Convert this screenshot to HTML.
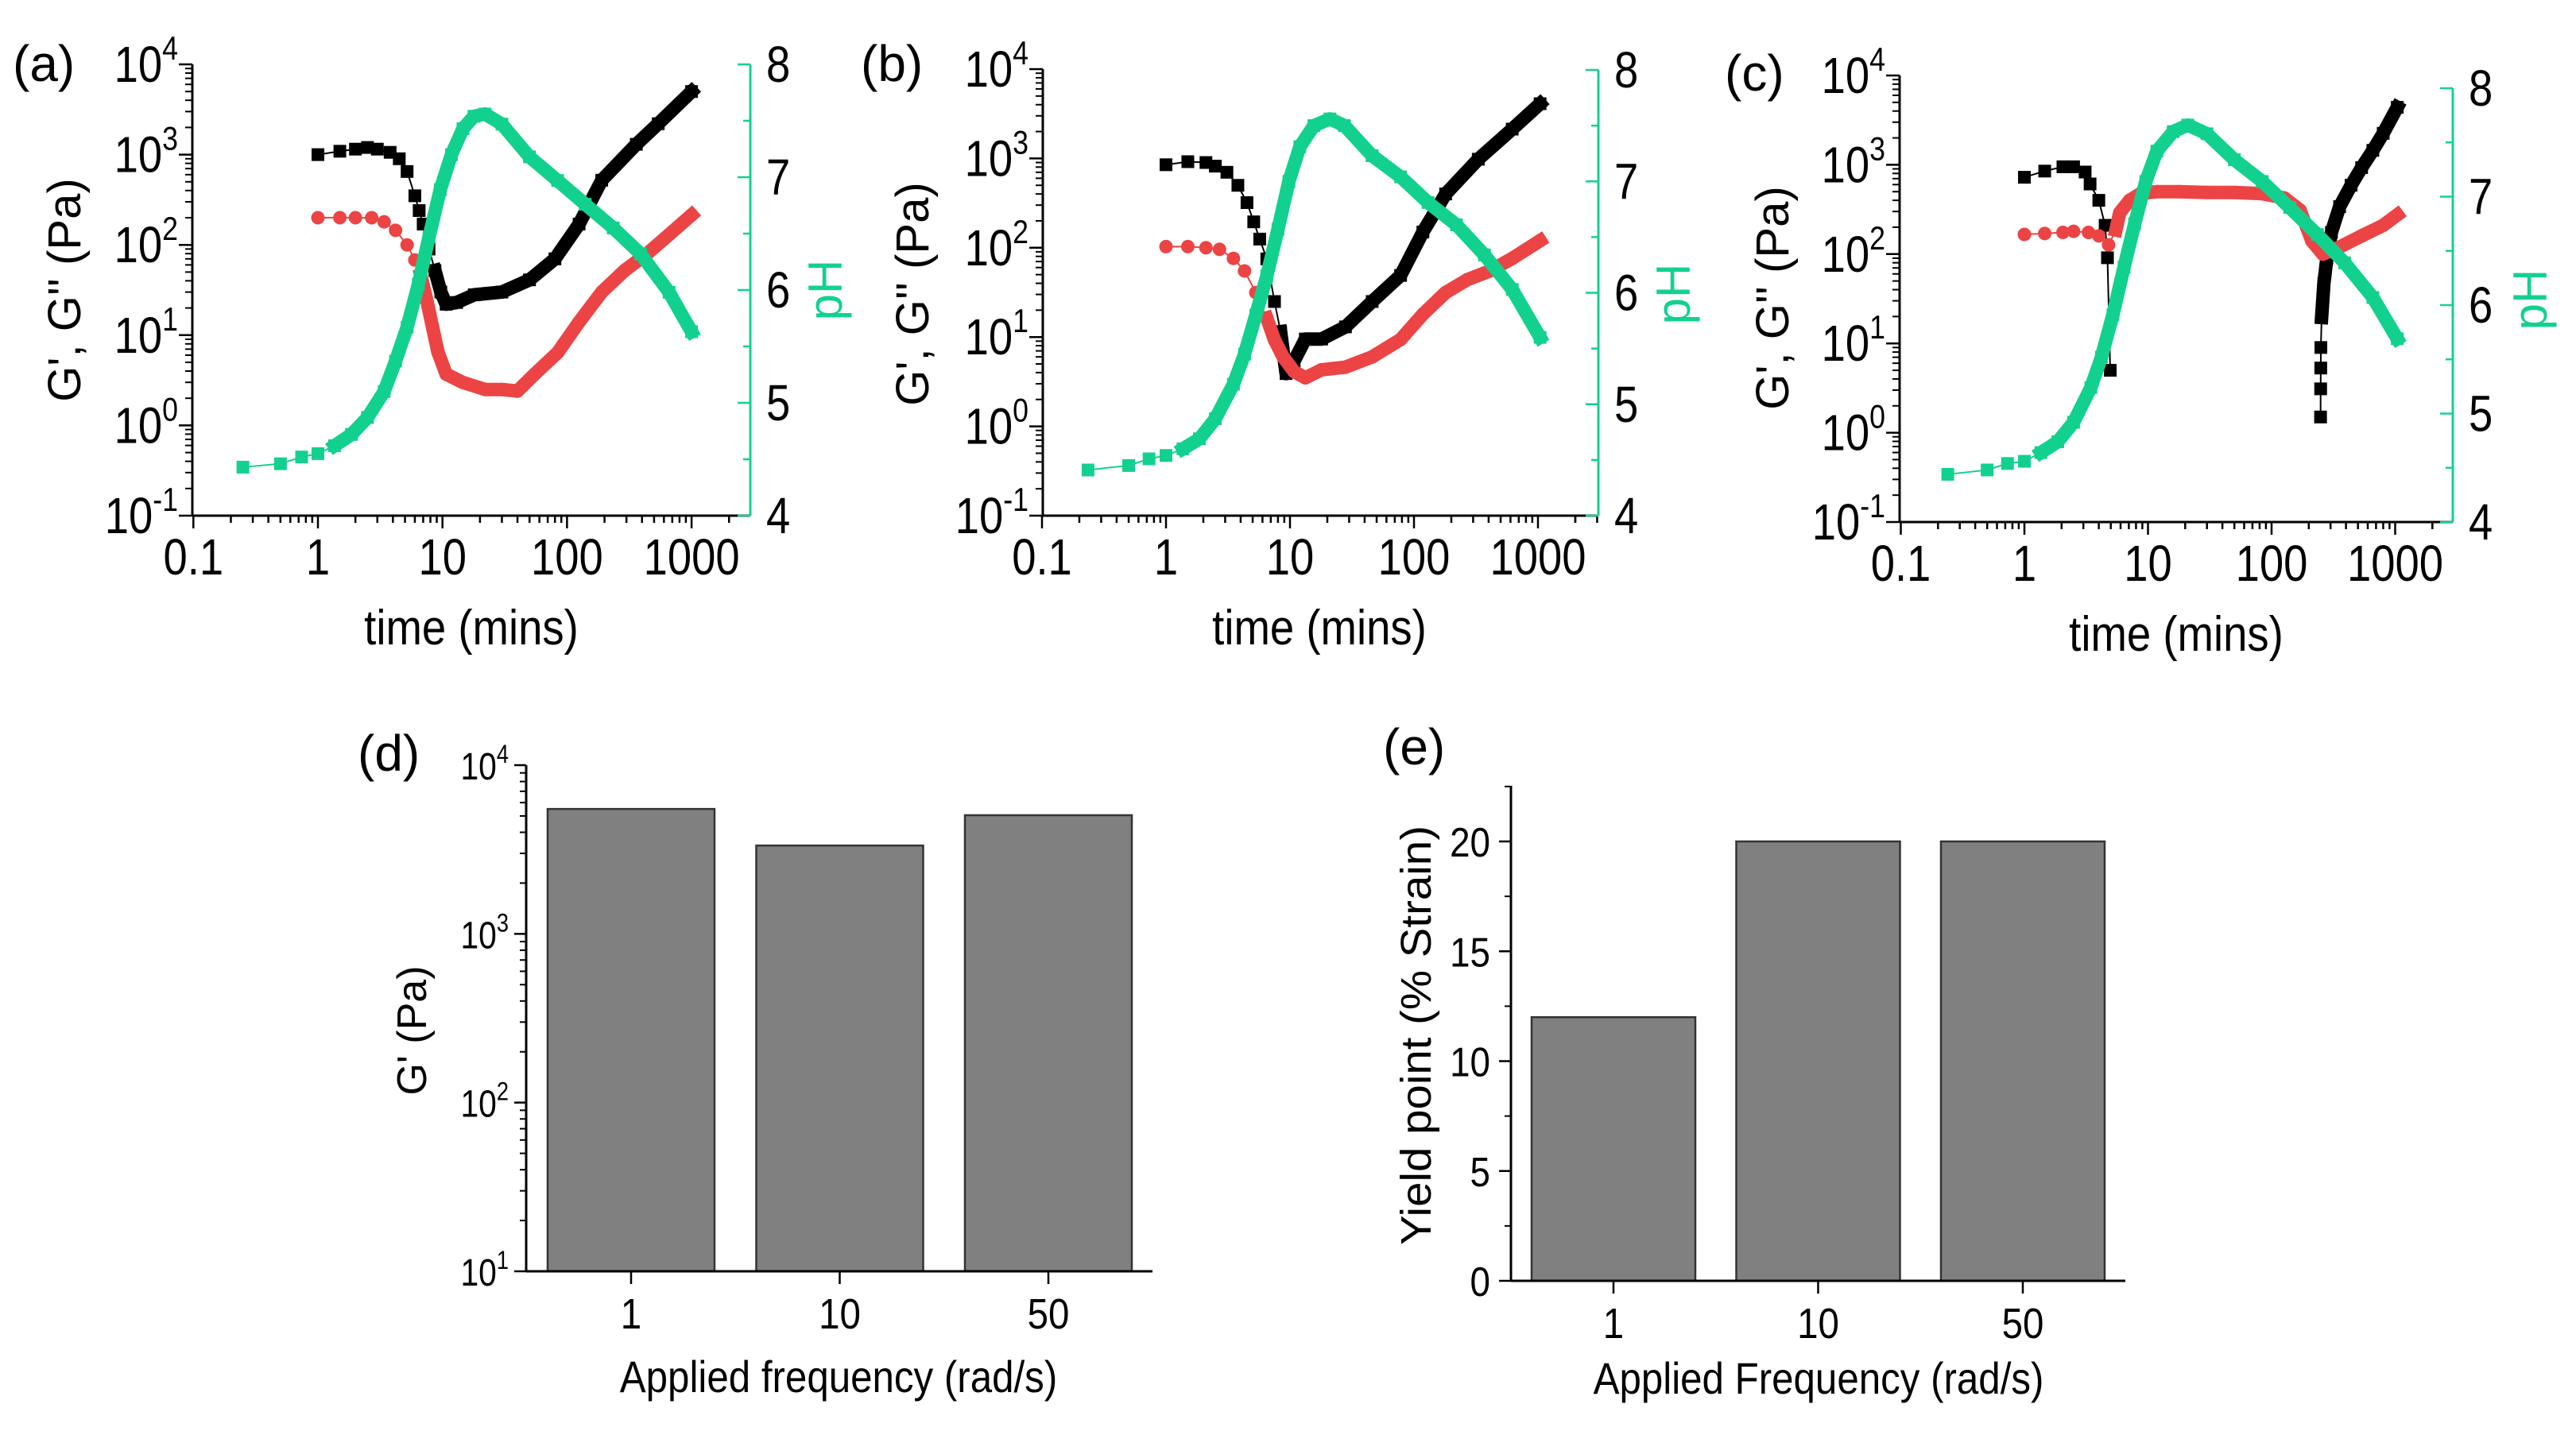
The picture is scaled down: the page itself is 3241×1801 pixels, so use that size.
<!DOCTYPE html>
<html><head><meta charset="utf-8"><style>
html,body{margin:0;padding:0;background:#fff;}
svg{display:block;font-family:"Liberation Sans",Arial,sans-serif;}
</style></head><body>
<svg id="fig" width="3241" height="1801" viewBox="0 0 3241 1801" xmlns="http://www.w3.org/2000/svg"></svg>
<script>
// ---------- Data: panel (a) ----------
const aGpT = [1,1.5,2,2.5,3,3.8,4.5,5.2,6,6.5,7,7.8,8.7,9.7,10.7,13,18,30,50,80,125,190,360,540,1000];
const aGpV = [1000,1090,1150,1200,1150,1060,900,650,350,240,170,90,52,30,22,23,28,30,41,70,170,520,1300,2200,5000];
const aGppT = [1,1.5,2,2.7,3.4,4.2,5.2,6,6.7,7.5,8.3,9.2,10.7,14.5,22,30,40,55,84,125,190,290,440,660,1000];
const aGppV = [200,200,200,200,180,145,100,68,46,24,12.5,6.5,3.7,3,2.5,2.5,2.4,3.7,6.4,14,30,52,80,130,215];
const aPhT = [0.25,0.5,0.74,1,1.36,1.86,2.5,3.4,4.2,5.2,6.4,7.8,9.6,11.8,14.6,17.9,22,30,50,84,140,235,390,660,1000];
const aPhV = [4.43,4.46,4.52,4.55,4.62,4.72,4.87,5.1,5.37,5.67,6.05,6.47,6.89,7.2,7.43,7.54,7.56,7.47,7.18,6.97,6.76,6.55,6.32,5.98,5.63];
// ---------- Data: panel (b) ----------
const bGpT = [1,1.5,2.1,2.5,3.1,3.8,4.5,5.1,5.7,6.5,7.5,8.4,9.3,10.8,13.3,18,28,46,78,118,180,330,620,1040];
const bGpV = [850,920,900,820,700,500,320,195,125,75,25,11.5,3.9,5.4,9.5,9.5,13,25,49,150,400,980,2130,4100];
const bGppT = [1,1.5,2.1,2.7,3.5,4.3,5.3,6.5,7.5,8.8,10.8,13.3,18,28,46,78,118,180,270,410,620,1040];
const bGppV = [103,103,100,96,76,55,31.5,16.3,9.3,6,4.1,3.5,4.3,4.6,6,9.4,18,31.5,44,55,76,120];
const bPhT = [0.235,0.5,0.73,1,1.37,1.86,2.5,3.5,4.3,5.3,6.5,8,9.8,12,15.6,21,27.5,46,78,130,220,370,620,1040];
const bPhV = [4.41,4.45,4.51,4.54,4.6,4.69,4.87,5.18,5.45,5.8,6.15,6.57,7.0,7.31,7.5,7.56,7.5,7.23,7.04,6.81,6.61,6.34,6.03,5.6];
// ---------- Data: panel (c) ----------
const cGpT = [1,1.46,2.05,2.5,3.1,3.4,4,4.5,4.7,4.95];
const cGpV = [725,850,950,950,830,610,400,210,91,5];
const cGpLateT = [249,249.5,250,250.5,254,265,280,305,355,440,535,660,800,1040];
const cGpLateV = [1.5,3.1,5.3,9,19.5,47,90,175,340,590,930,1450,2250,4400];
const cGppT = [1,1.46,2.05,2.5,3.3,4,4.8,5.5,5.9,7.1,8.7,11.8,17.9,30,50,84,127,170,212,260,355,535,800,1040];
const cGppV = [166,170,175,180,175,160,127,186,290,400,475,500,500,490,490,475,425,310,140,100,120,160,210,275];
const cPhT = [0.24,0.5,0.73,1,1.36,1.86,2.5,3.45,4.2,5.2,6.4,7.8,9.6,11.8,16,21,30,50,84,140,235,390,660,1040];
const cPhV = [4.44,4.48,4.54,4.56,4.64,4.74,4.92,5.24,5.52,5.91,6.35,6.75,7.14,7.42,7.6,7.66,7.58,7.34,7.14,6.9,6.65,6.39,6.07,5.69];
// ---------- Data: panel (d) ----------
const dCategories = ["1","10","50"];
const dValues = [5500,3340,5050];
const dTickExps = [1,2,3,4];
// ---------- Data: panel (e) ----------
const eCategories = ["1","10","50"];
const eValues = [12,20,20];
const eTickLabels = ["0","5","10","15","20"];

const NS = "http://www.w3.org/2000/svg";
const svg = document.getElementById("fig");
function mk(tag, attrs, parent){
  const e = document.createElementNS(NS, tag);
  for (const k in attrs) e.setAttribute(k, attrs[k]);
  (parent||svg).appendChild(e);
  return e;
}
// condensed text at (x,y)
function ctext(parent, x, y, size, anchor, sx){
  return mk("text",{x:0,y:0,"font-size":size,"text-anchor":anchor,transform:`translate(${x},${y}) scale(${sx},1)`},parent);
}
const GREEN = "#12d18e", RED = "#ec4444", BLACK = "#000";

function logPanel(cfg){
  const g = mk("g", {});
  
  
  const xs = t => cfg.x1 + cfg.dec * Math.log10(t);
  const decY = (cfg.yBot - cfg.yTop) / 5;
  const ys = v => cfg.yBot - decY * (Math.log10(v) + 1);
  const phUnit = (cfg.yBot - cfg.ph8) / 4;
  const yp = p => cfg.yBot - phUnit * (p - 4);

  const la = mk("line", {x1:cfg.left, y1:cfg.yTop, x2:cfg.left, y2:cfg.yBot, stroke:"#000","stroke-width":3}, g);
  
  
  const ba = mk("line", {x1:cfg.left, y1:cfg.yBot, x2:cfg.right, y2:cfg.yBot, stroke:"#000","stroke-width":3}, g);
  
  
  const ra = mk("line", {x1:cfg.right, y1:cfg.ph8, x2:cfg.right, y2:cfg.yBot, stroke:GREEN,"stroke-width":3}, g);
  
  

  const xl = ["0.1","1","10","100","1000"];
  for (let d=-1; d<=3; d++){
    for (let m=1; m<=9; m++){
      const x = xs(m*Math.pow(10,d));
      if (x > cfg.right) break;
      mk("line",{x1:x,y1:cfg.yBot,x2:x,y2:cfg.yBot+(m===1?16:9),stroke:"#000","stroke-width":2.5},g);
    }
    const t = ctext(g, xs(Math.pow(10,d)), cfg.yBot+74, 64, "middle", 0.85);
    t.textContent = xl[d+1];
    
    
  }
  mk("line",{x1:xs(2000),y1:cfg.yBot,x2:xs(2000),y2:cfg.yBot+9,stroke:"#000","stroke-width":2.5},g);
  for (let e=-1; e<=4; e++){
    const y = ys(Math.pow(10,e));
    mk("line",{x1:cfg.left-17,y1:y,x2:cfg.left,y2:y,stroke:"#000","stroke-width":2.5},g);
    if (e<4) for (let m=2; m<=9; m++){
      const yy = ys(m*Math.pow(10,e));
      mk("line",{x1:cfg.left-9,y1:yy,x2:cfg.left,y2:yy,stroke:"#000","stroke-width":2},g);
    }
    const t = ctext(g, cfg.left-18, y+22, 64, "end", 0.85);
    
    
    const a = mk("tspan",{},t); a.textContent = "10";
    const s = mk("tspan",{"font-size":42,dy:-28},t); s.textContent = String(e);
  }
  for (let p=4; p<=8; p+=0.5){
    const y = yp(p);
    const major = Math.abs(p-Math.round(p))<1e-6;
    mk("line",{x1:cfg.right-(major?16:9),y1:y,x2:cfg.right,y2:y,stroke:GREEN,"stroke-width":2.5},g);
    if (major){
      const t = ctext(g, cfg.right+20, y+22, 64, "start", 0.85);
      t.textContent = String(p);
      
      
    }
  }
  const xt = ctext(g, cfg.xTitleX, cfg.yBot+162, 62, "middle", 0.88);
  xt.textContent = "time (mins)";
  
  
  const yt = mk("text",{x:0,y:0,"font-size":58,"text-anchor":"middle",transform:`translate(${cfg.yTitleX+20},${cfg.yTitleY}) rotate(-90)`},g);
  yt.textContent = "G', G'' (Pa)";
  
  
  const pt = mk("text",{x:0,y:0,"font-size":60,"text-anchor":"middle",fill:GREEN,transform:`translate(${cfg.phTitleX+21},${cfg.phTitleY}) rotate(-90)`},g);
  pt.textContent = "pH";
  
  
  const pl = mk("text",{x:cfg.labX,y:cfg.labY,"font-size":64},g);
  pl.textContent = cfg.label;
  
  

  function series(T, V, yfn, color, shape, denseFrom, name){
    const sg = mk("g",{},g);
    
    
    const pts = T.map((t,i)=>[xs(t), yfn(V[i])]);
    mk("polyline",{points:pts.map(p=>p.join(",")).join(" "),fill:"none",stroke:color,"stroke-width":2},sg);
    const dense = pts.filter((p,i)=>T[i]>=denseFrom);
    if (dense.length>1) mk("polyline",{points:dense.map(p=>p.join(",")).join(" "),fill:"none",stroke:color,"stroke-width":17,"stroke-linejoin":"round","stroke-linecap":"square"},sg);
    pts.forEach(p=>{
      if (shape==="sq") mk("rect",{x:p[0]-8,y:p[1]-8,width:16,height:16,fill:color},sg);
      else mk("circle",{cx:p[0],cy:p[1],r:8.5,fill:color},sg);
    });
  }
  cfg.series.forEach(s=>{
    const yfn = s.ph ? yp : ys;
    series(s.T, s.V, yfn, s.color, s.shape, s.dense, s.name);
  });
}

logPanel({name:"panel-a", label:"(a)", labX:16, labY:102, left:242, right:944, x1:400, dec:156.7, yTop:81, yBot:649, ph8:81,
  xTitleX:593, yTitleX:81, yTitleY:365, phTitleX:1038, phTitleY:365,
  series:[
    {T:aGpT,V:aGpV,color:BLACK,shape:"sq",dense:8,name:"g-prime-series"},
    {T:aGppT,V:aGppV,color:RED,shape:"ci",dense:6.5,name:"g-double-prime-series"},
    {T:aPhT,V:aPhV,color:GREEN,shape:"sq",dense:1.3,ph:true,name:"ph-series"}]});
logPanel({name:"panel-b", label:"(b)", labX:1083, labY:102, left:1312, right:2011, x1:1467, dec:156, yTop:87, yBot:649, ph8:88,
  xTitleX:1660, yTitleX:1148, yTitleY:370, phTitleX:2105, phTitleY:370,
  series:[
    {T:bGpT,V:bGpV,color:BLACK,shape:"sq",dense:8,name:"g-prime-series"},
    {T:bGppT,V:bGppV,color:RED,shape:"ci",dense:6.5,name:"g-double-prime-series"},
    {T:bPhT,V:bPhV,color:GREEN,shape:"sq",dense:1.3,ph:true,name:"ph-series"}]});
logPanel({name:"panel-c", label:"(c)", labX:2170, labY:114, left:2390, right:3086, x1:2547, dec:155.5, yTop:95, yBot:657, ph8:111,
  xTitleX:2738, yTitleX:2230, yTitleY:375, phTitleX:3183, phTitleY:377,
  series:[
    {T:cGpT,V:cGpV,color:BLACK,shape:"sq",dense:1e9,name:"g-prime-early-series"},
    {T:cGpLateT,V:cGpLateV,color:BLACK,shape:"sq",dense:252,name:"g-prime-late-series"},
    {T:cGppT,V:cGppV,color:RED,shape:"ci",dense:5.4,name:"g-double-prime-series"},
    {T:cPhT,V:cPhV,color:GREEN,shape:"sq",dense:1.3,ph:true,name:"ph-series"}]});

// ---------- Panel (d) ----------
(function(){
  const g = mk("g",{});
  
  
  const left=662, right=1450, yTop=963, yBot=1600, dec=(yBot-yTop)/3;
  const ys = v => yBot - dec*(Math.log10(v)-1);
  const cx0=794, step=262.5, bw=210;
  dCategories.forEach((c,i)=>{
    const x = cx0+i*step, y = ys(dValues[i]);
    const r = mk("rect",{x:x-bw/2,y:y,width:bw,height:yBot-y,fill:"#808080",stroke:"#333","stroke-width":2.5},g);
    
    
    mk("line",{x1:x,y1:yBot,x2:x,y2:yBot+16,stroke:"#000","stroke-width":2.5},g);
    const t = ctext(g, x, yBot+72, 54, "middle", 0.88);
    t.textContent = c;
    
    
  });
  mk("line",{x1:left,y1:yTop,x2:left,y2:yBot,stroke:"#000","stroke-width":3},g);
  mk("line",{x1:left,y1:yBot,x2:right,y2:yBot,stroke:"#000","stroke-width":3},g);
  dTickExps.forEach(e=>{
    const y = ys(Math.pow(10,e));
    mk("line",{x1:left-15,y1:y,x2:left,y2:y,stroke:"#000","stroke-width":2.5},g);
    if (e<4) for (let m=2;m<=9;m++){ const yy=ys(m*Math.pow(10,e)); mk("line",{x1:left-8,y1:yy,x2:left,y2:yy,stroke:"#000","stroke-width":2},g); }
    const t = ctext(g, left-22, y+18, 48, "end", 0.85);
    
    
    const a=mk("tspan",{},t); a.textContent="10";
    const s=mk("tspan",{"font-size":32,dy:-21},t); s.textContent=String(e);
  });
  const xt = ctext(g, 1055, 1752, 56, "middle", 0.88);
  xt.textContent = "Applied frequency (rad/s)";
  
  
  const yt = mk("text",{x:0,y:0,"font-size":52,"text-anchor":"middle",transform:"translate(536,1297) rotate(-90)"},g);
  yt.textContent = "G' (Pa)";
  
  
  const pl = mk("text",{x:450,y:970,"font-size":64},g);
  pl.textContent="(d)";
  
  
})();

// ---------- Panel (e) ----------
(function(){
  const g = mk("g",{});
  
  
  const left=1901, right=2674, yTop=989, yBot=1612, per=(1612-1059)/20;
  const ys = v => yBot - per*v;
  const cx0=2030, step=257.5, bw=206;
  eCategories.forEach((c,i)=>{
    const x = cx0+i*step, y = ys(eValues[i]);
    const r = mk("rect",{x:x-bw/2,y:y,width:bw,height:yBot-y,fill:"#808080",stroke:"#333","stroke-width":2.5},g);
    
    
    mk("line",{x1:x,y1:yBot,x2:x,y2:yBot+16,stroke:"#000","stroke-width":2.5},g);
    const t = ctext(g, x, yBot+72, 54, "middle", 0.88);
    t.textContent = c;
    
    
  });
  mk("line",{x1:left,y1:yTop,x2:left,y2:yBot,stroke:"#000","stroke-width":3},g);
  mk("line",{x1:left,y1:yBot,x2:right,y2:yBot,stroke:"#000","stroke-width":3},g);
  eTickLabels.forEach((lab,i)=>{
    const y = ys(Number(lab));
    mk("line",{x1:left-15,y1:y,x2:left,y2:y,stroke:"#000","stroke-width":2.5},g);
    const t = ctext(g, left-26, y+19, 52, "end", 0.88);
    t.textContent = lab;
    
    
    const ym = ys(Number(lab)+2.5);
    if (ym > yTop) mk("line",{x1:left-8,y1:ym,x2:left,y2:ym,stroke:"#000","stroke-width":2},g);
  });
  const xt = ctext(g, 2288, 1754, 56, "middle", 0.88);
  xt.textContent = "Applied Frequency (rad/s)";
  
  
  const yt = mk("text",{x:0,y:0,"font-size":54,"text-anchor":"middle",textLength:528,lengthAdjust:"spacingAndGlyphs",transform:"translate(1800,1303) rotate(-90)"},g);
  yt.textContent = "Yield point (% Strain)";
  
  
  const pl = mk("text",{x:1740,y:962,"font-size":64},g);
  pl.textContent="(e)";
  
  
})();
</script>
</body></html>
